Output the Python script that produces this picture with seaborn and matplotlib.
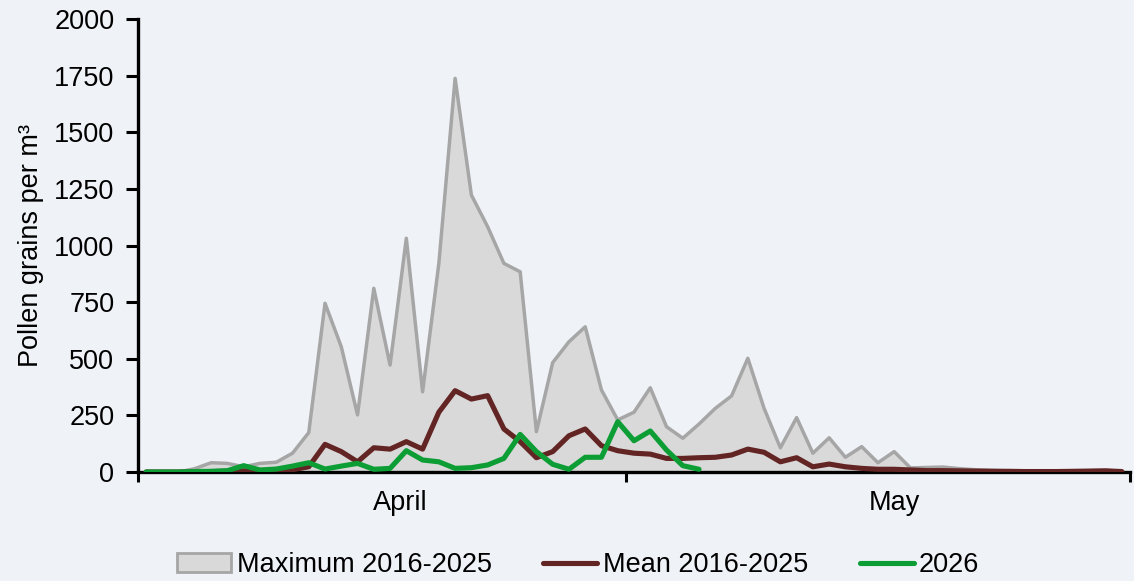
import numpy as np
import pandas as pd
import matplotlib
matplotlib.use("Agg")
import matplotlib.pyplot as plt
import seaborn as sns
from matplotlib.patches import Patch
from matplotlib.lines import Line2D

sns.set_theme(style="white")
plt.rcParams['font.family'] = ['Liberation Sans', 'DejaVu Sans']

# daily values, 1 April .. 31 May (61 days)
days = np.arange(61)
max_2016_2025 = [0, 0, 0, 15, 41, 38, 23, 38, 43, 83,
                 174, 745, 553, 252, 811, 472, 1032, 354, 921, 1738,
                 1223, 1083, 921, 884, 178, 483, 575, 641, 362, 230,
                 264, 372, 200, 149, 212, 281, 336, 502, 281, 107,
                 240, 83, 151, 65, 112, 41, 90, 18, 20, 22,
                 15, 10, 8, 5, 4, 3, 3, 4, 6, 8, 3]
mean_2016_2025 = [0, 0, 0, 1, 2, 3, 5, 3, 5, 10,
                  23, 122, 90, 45, 107, 101, 134, 101, 264, 359,
                  322, 337, 190, 134, 63, 90, 160, 190, 116, 94,
                  83, 79, 60, 60, 63, 65, 75, 101, 87, 45,
                  63, 23, 35, 23, 16, 12, 12, 9, 6, 6,
                  5, 4, 3, 3, 2, 2, 2, 3, 4, 5, 2]
y2026 = [0, 0, 0, 2, 3, 6, 28, 9, 13, 26,
         41, 13, 26, 38, 12, 16, 94, 53, 45, 16,
         19, 31, 60, 166, 90, 34, 12, 65, 65, 222,
         138, 181, 97, 28, 12]
y2026 = y2026 + [np.nan] * (len(days) - len(y2026))

month_labels = ["April", "May"]
month_label_pos = [15.6, 46.0]
month_bounds = [-0.5, 29.5, 60.5]

df = pd.DataFrame({"day": days, "max": max_2016_2025,
                   "mean": mean_2016_2025, "y2026": y2026})

bg = "#eff3f8"
fill_c = "#d9d9d9"
edge_c = "#a6a6a6"
mean_c = "#632523"
green_c = "#0c9e35"
fs = 19.5

fig = plt.figure(figsize=(11.34, 5.81), dpi=100, facecolor=bg)
ax = fig.add_axes([138 / 1134, 1 - 472 / 581, (1130 - 138) / 1134, (472 - 19) / 581])
ax.set_facecolor(bg)

ax.fill_between(df["day"], 0, df["max"], color=fill_c, lw=0, zorder=1)
sns.lineplot(data=df, x="day", y="max", ax=ax, color=edge_c, lw=2.5, zorder=2)
sns.lineplot(data=df, x="day", y="mean", ax=ax, color=mean_c, lw=3.7, zorder=3)
sns.lineplot(data=df, x="day", y="y2026", ax=ax, color=green_c, lw=3.7, zorder=4)

ax.set_xlim(-0.5, 60.5)
ax.set_ylim(0, 2000)
ax.set_yticks(np.arange(0, 2001, 250))
ax.set_xticks(month_bounds)
ax.set_xticklabels([])
ax.set_xticks(month_label_pos, minor=True)
ax.set_xticklabels(month_labels, minor=True, fontsize=fs)
ax.tick_params(axis="x", which="major", direction="out", length=7, width=2.2,
               color="black", bottom=True)
ax.tick_params(axis="x", which="minor", length=0, pad=13, labelcolor="black")
ax.tick_params(axis="y", direction="out", length=9, width=2.2, color="black",
               left=True, pad=8, labelsize=fs, labelcolor="black")

ax.set_xlabel("")
ax.set_ylabel("Pollen grains per m³", fontsize=fs, color="black", labelpad=7)

for s in ["top", "right"]:
    ax.spines[s].set_visible(False)
for s in ["left", "bottom"]:
    ax.spines[s].set_color("black")
    ax.spines[s].set_linewidth(2.4)
ax.grid(False)

handles = [Patch(facecolor=fill_c, edgecolor=edge_c, lw=2),
           Line2D([0], [0], color=mean_c, lw=3.7),
           Line2D([0], [0], color=green_c, lw=3.7)]
labels = ["Maximum 2016-2025", "Mean 2016-2025", "2026"]
leg = fig.legend(handles, labels, loc="center", bbox_to_anchor=(0.51, 0.027), ncol=3,
                 frameon=False, fontsize=fs, handlelength=2.0, handletextpad=0.2,
                 columnspacing=1.9, borderpad=0)
for t in leg.get_texts():
    t.set_color("black")

fig.savefig("out.png", dpi=100, facecolor=bg)
